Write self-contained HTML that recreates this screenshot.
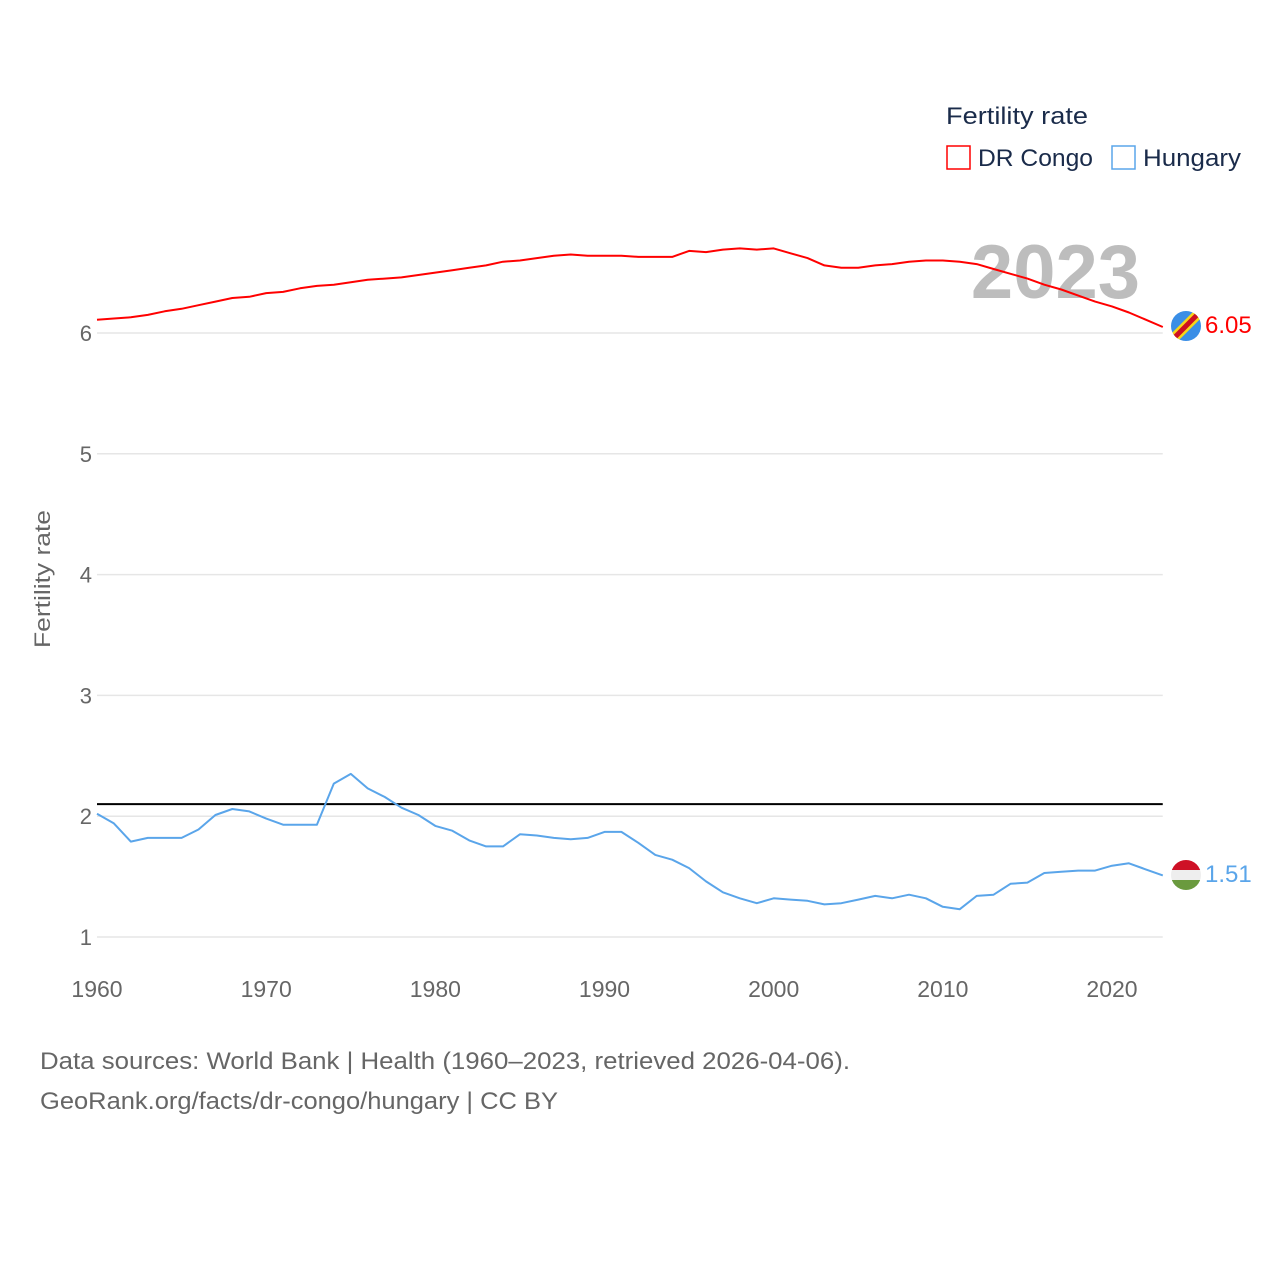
<!DOCTYPE html>
<html><head><meta charset="utf-8">
<style>
body{margin:0;background:#fff;font-family:"Liberation Sans",sans-serif;}
svg text{font-family:"Liberation Sans",sans-serif;}
</style></head>
<body>
<svg id="chart" width="1280" height="1280" viewBox="0 0 1280 1280" xmlns="http://www.w3.org/2000/svg">
<rect width="1280" height="1280" fill="#fff"/>
<g id="grid"></g>
<text x="1140" y="298" text-anchor="end" font-size="76" font-weight="bold" fill="#bdbdbd">2023</text>
<g id="lines"></g>
<text transform="translate(50,579) rotate(-90)" text-anchor="middle" font-size="22" fill="#666" textLength="138" lengthAdjust="spacingAndGlyphs">Fertility rate</text>
<g>
<text x="946" y="124" font-size="24" fill="#1a2b4a" textLength="142" lengthAdjust="spacingAndGlyphs">Fertility rate</text>
<rect x="947" y="146" width="23" height="23" fill="none" stroke="#ff0000" stroke-width="1.5"/>
<text x="978" y="166" font-size="24" fill="#1a2b4a" textLength="115" lengthAdjust="spacingAndGlyphs">DR Congo</text>
<rect x="1112" y="146" width="23" height="23" fill="none" stroke="#5aa5ea" stroke-width="1.5"/>
<text x="1143" y="166" font-size="24" fill="#1a2b4a" textLength="98" lengthAdjust="spacingAndGlyphs">Hungary</text>
</g>
<g>
<clipPath id="c1"><circle cx="1186" cy="326" r="15"/></clipPath>
<g clip-path="url(#c1)"><rect x="1170" y="310" width="32" height="32" fill="#3a8ee6"/>
<line x1="1168" y1="344" x2="1204" y2="308" stroke="#f7d618" stroke-width="10"/>
<line x1="1168" y1="344" x2="1204" y2="308" stroke="#ce1021" stroke-width="5"/></g>
</g>
<g>
<clipPath id="c2"><circle cx="1186" cy="875" r="15"/></clipPath>
<g clip-path="url(#c2)"><rect x="1170" y="860" width="32" height="10" fill="#ce1126"/><rect x="1170" y="870" width="32" height="10" fill="#eee"/><rect x="1170" y="880" width="32" height="11" fill="#6a9a3e"/></g>
</g>
<text x="1205" y="333" font-size="24" fill="#ff0000">6.05</text>
<text x="1205" y="882" font-size="24" fill="#5aa5ea">1.51</text>
<text x="40" y="1069" font-size="24" fill="#666" textLength="810" lengthAdjust="spacingAndGlyphs">Data sources: World Bank | Health (1960–2023, retrieved 2026-04-06).</text>
<text x="40" y="1109" font-size="24" fill="#666" textLength="518" lengthAdjust="spacingAndGlyphs">GeoRank.org/facts/dr-congo/hungary | CC BY</text>
</svg>
<script>
const years = [];
for (let y = 1960; y <= 2023; y++) years.push(y);
const congo = [6.11,6.12,6.13,6.15,6.18,6.20,6.23,6.26,6.29,6.30,6.33,6.34,6.37,6.39,6.40,6.42,6.44,6.45,6.46,6.48,6.50,6.52,6.54,6.56,6.59,6.60,6.62,6.64,6.65,6.64,6.64,6.64,6.63,6.63,6.63,6.68,6.67,6.69,6.70,6.69,6.70,6.66,6.62,6.56,6.54,6.54,6.56,6.57,6.59,6.60,6.60,6.59,6.57,6.53,6.49,6.45,6.40,6.36,6.31,6.26,6.22,6.17,6.11,6.05];
const hungary = [2.02,1.94,1.79,1.82,1.82,1.82,1.89,2.01,2.06,2.04,1.98,1.93,1.93,1.93,2.27,2.35,2.23,2.16,2.07,2.01,1.92,1.88,1.80,1.75,1.75,1.85,1.84,1.82,1.81,1.82,1.87,1.87,1.78,1.68,1.64,1.57,1.46,1.37,1.32,1.28,1.32,1.31,1.30,1.27,1.28,1.31,1.34,1.32,1.35,1.32,1.25,1.23,1.34,1.35,1.44,1.45,1.53,1.54,1.55,1.55,1.59,1.61,1.56,1.51];
const yTicks = [1,2,3,4,5,6];
const xTicks = [1960,1970,1980,1990,2000,2010,2020];
const replacement = 2.1;

const NS = "http://www.w3.org/2000/svg";
const xS = y => 97 + (y - 1960) * (1112 - 97) / 60;
const yS = v => 333 - (v - 6) * 120.8;
const grid = document.getElementById('grid');
const lines = document.getElementById('lines');

yTicks.forEach(t => {
  const l = document.createElementNS(NS, 'line');
  
  
  l.setAttribute('x1', 97); l.setAttribute('x2', xS(2023));
  l.setAttribute('y1', yS(t)); l.setAttribute('y2', yS(t));
  l.setAttribute('stroke', '#e6e6e6'); l.setAttribute('stroke-width', 1.5);
  grid.appendChild(l);
  const tx = document.createElementNS(NS, 'text');
  
  
  tx.setAttribute('x', 92); tx.setAttribute('y', yS(t) + 8);
  tx.setAttribute('text-anchor', 'end'); tx.setAttribute('font-size', 22); tx.setAttribute('fill', '#666');
  tx.textContent = t;
  grid.appendChild(tx);
});
xTicks.forEach(t => {
  const tx = document.createElementNS(NS, 'text');
  
  
  tx.setAttribute('x', xS(t)); tx.setAttribute('y', 997);
  tx.setAttribute('text-anchor', 'middle'); tx.setAttribute('font-size', 23); tx.setAttribute('fill', '#666');
  tx.textContent = t;
  grid.appendChild(tx);
});

const ref = document.createElementNS(NS, 'line');


ref.setAttribute('x1', 97); ref.setAttribute('x2', xS(2023));
ref.setAttribute('y1', yS(replacement)); ref.setAttribute('y2', yS(replacement));
ref.setAttribute('stroke', '#000'); ref.setAttribute('stroke-width', 2);
lines.appendChild(ref);

function drawSeries(vals, color, name) {
  const p = document.createElementNS(NS, 'polyline');
  
  
  p.setAttribute('points', vals.map((v, i) => xS(years[i]).toFixed(1) + ',' + yS(v).toFixed(1)).join(' '));
  p.setAttribute('fill', 'none'); p.setAttribute('stroke', color); p.setAttribute('stroke-width', 2);
  p.setAttribute('stroke-linejoin', 'round');
  lines.appendChild(p);
}
drawSeries(congo, '#ff0000', 'series-dr-congo');
drawSeries(hungary, '#5aa5ea', 'series-hungary');
</script>
</body></html>
